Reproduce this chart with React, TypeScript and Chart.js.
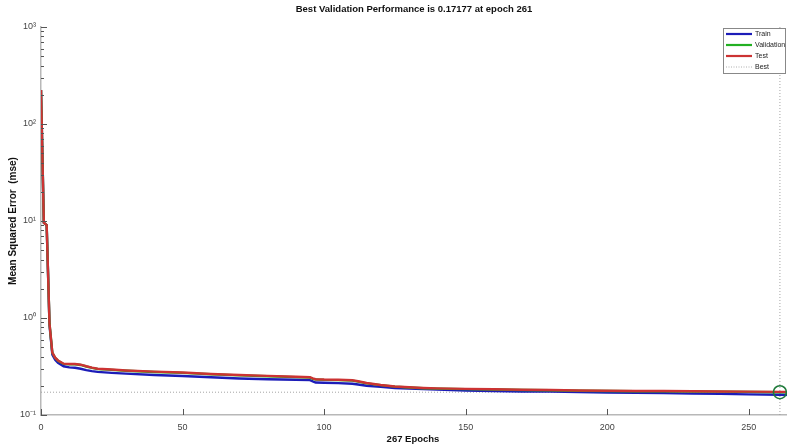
import React, { useEffect, useRef } from "react";
import { Chart, registerables } from "chart.js";

Chart.register(...registerables);

const FONT = '"Liberation Sans", Arial, sans-serif';

const titleText = "Best Validation Performance is 0.17177 at epoch 261";
const xTitle = "267 Epochs";
const yTitle = "Mean Squared Error  (mse)";

const epochs = [0, 1, 2, 3, 4, 5, 6, 8, 10, 12, 14, 16, 18, 20, 25, 30, 40, 50, 60, 70, 80, 90, 95, 96, 97, 100, 105, 110, 112, 115, 120, 125, 130, 135, 140, 150, 160, 170, 180, 190, 200, 210, 220, 230, 240, 250, 261, 267];

const trainMse = [224, 9.6, 9.1, 0.85, 0.42, 0.37, 0.345, 0.318, 0.31, 0.307, 0.3, 0.29, 0.283, 0.278, 0.272, 0.267, 0.258, 0.252, 0.245, 0.238, 0.234, 0.231, 0.229, 0.222, 0.216, 0.215, 0.213, 0.21, 0.206, 0.2, 0.195, 0.19, 0.187, 0.185, 0.183, 0.179, 0.177, 0.175, 0.174, 0.172, 0.17, 0.169, 0.168, 0.166, 0.165, 0.163, 0.162, 0.161];

const validationMse = [224, 9.6, 9.1, 0.878, 0.438, 0.388, 0.363, 0.336, 0.333, 0.334, 0.328, 0.316, 0.306, 0.298, 0.292, 0.286, 0.278, 0.272, 0.263, 0.256, 0.251, 0.246, 0.243, 0.236, 0.232, 0.23, 0.229, 0.226, 0.221, 0.212, 0.203, 0.196, 0.192, 0.189, 0.187, 0.185, 0.183, 0.181, 0.18, 0.178, 0.177, 0.176, 0.176, 0.175, 0.174, 0.173, 0.17177, 0.1719];

const testMse = [224, 9.6, 9.1, 0.88, 0.44, 0.39, 0.365, 0.338, 0.335, 0.336, 0.33, 0.318, 0.308, 0.3, 0.294, 0.288, 0.28, 0.274, 0.265, 0.258, 0.253, 0.248, 0.245, 0.238, 0.234, 0.232, 0.231, 0.228, 0.223, 0.214, 0.204, 0.197, 0.193, 0.19, 0.188, 0.186, 0.184, 0.182, 0.181, 0.179, 0.178, 0.177, 0.177, 0.176, 0.175, 0.174, 0.173, 0.173];

const bestEpoch = 261;
const bestValue = 0.17177;
const totalEpochs = 267;

const xTicks = [0, 50, 100, 150, 200, 250];
const yTicks = [0.1, 1, 10, 100, 1000];
const yTickLabels = ["10\u207B\u00B9", "10\u2070", "10\u00B9", "10\u00B2", "10\u00B3"];

const legendNames = ["Train", "Validation", "Test", "Best"];

const TRAIN_COLOR = "#1c1cb8";
const VAL_COLOR = "#22b022";
const TEST_COLOR = "#cc3333";
const BEST_COLOR = "#9a9a9a";
const CIRCLE_COLOR = "#1f7a3a";

const toPoints = (ys: number[]) => epochs.map((e, i) => ({ x: e, y: ys[i] }));

const decorPlugin = {
  id: "decor",
  afterDraw(chart: any) {
    const { ctx, chartArea, scales } = chart;
    const xs = scales.x;
    const ys = scales.y;
    ctx.save();
    ctx.strokeStyle = "#555";
    ctx.lineWidth = 1;
    ctx.beginPath();
    for (const t of xTicks) {
      const px = Math.round(xs.getPixelForValue(t)) + 0.5;
      ctx.moveTo(px, chartArea.bottom);
      ctx.lineTo(px, chartArea.bottom - 6);
    }
    for (let d = 0; d < yTicks.length; d++) {
      const base = yTicks[d];
      const py = Math.round(ys.getPixelForValue(base)) + 0.5;
      ctx.moveTo(chartArea.left, py);
      ctx.lineTo(chartArea.left + 6, py);
      if (d < yTicks.length - 1) {
        for (let m = 2; m <= 9; m++) {
          const my = Math.round(ys.getPixelForValue(base * m)) + 0.5;
          ctx.moveTo(chartArea.left, my);
          ctx.lineTo(chartArea.left + 3, my);
        }
      }
    }
    ctx.stroke();

    ctx.fillStyle = "#111";
    ctx.font = `bold 9.5px ${FONT}`;
    ctx.textAlign = "center";
    ctx.textBaseline = "middle";
    ctx.fillText(titleText, 414, 9);
    ctx.fillText(xTitle, 413, 439);

    const lx = 723, ly = 28, lw = 62, lh = 45;
    ctx.fillStyle = "#fff";
    ctx.fillRect(lx, ly, lw, lh);
    ctx.strokeStyle = "#888";
    ctx.lineWidth = 1;
    ctx.strokeRect(lx + 0.5, ly + 0.5, lw, lh);
    const colors = [TRAIN_COLOR, VAL_COLOR, TEST_COLOR, BEST_COLOR];
    ctx.font = `7px ${FONT}`;
    ctx.textAlign = "left";
    ctx.textBaseline = "middle";
    for (let i = 0; i < legendNames.length; i++) {
      const yy = ly + 6 + i * 11;
      ctx.beginPath();
      ctx.strokeStyle = colors[i];
      if (i === 3) {
        ctx.lineWidth = 0.8;
        ctx.setLineDash([1, 1.5]);
      } else {
        ctx.lineWidth = 2.2;
        ctx.setLineDash([]);
      }
      ctx.moveTo(lx + 3, yy);
      ctx.lineTo(lx + 29, yy);
      ctx.stroke();
      ctx.setLineDash([]);
      ctx.fillStyle = "#222";
      ctx.fillText(legendNames[i], lx + 32, yy + 0.5);
    }
    ctx.restore();
  },
};

export default function App() {
  const canvasRef = useRef<HTMLCanvasElement | null>(null);

  useEffect(() => {
    const canvas = canvasRef.current;
    if (!canvas) return;
    const chart = new Chart(canvas, {
      type: "line",
      data: {
        datasets: [
          { label: "Train", data: toPoints(trainMse), borderColor: TRAIN_COLOR, borderWidth: 2.4, pointRadius: 0, tension: 0, order: 3 },
          { label: "Validation", data: toPoints(validationMse), borderColor: VAL_COLOR, borderWidth: 2.4, pointRadius: 0, tension: 0, order: 2 },
          { label: "Test", data: toPoints(testMse), borderColor: TEST_COLOR, borderWidth: 2.4, pointRadius: 0, tension: 0, order: 1 },
          {
            label: "Best",
            data: [
              { x: 0, y: bestValue },
              { x: totalEpochs, y: bestValue },
            ],
            borderColor: BEST_COLOR,
            borderWidth: 0.9,
            borderDash: [1, 2],
            pointRadius: 0,
            order: 5,
          },
          {
            label: "BestV",
            data: [
              { x: bestEpoch, y: yTicks[0] },
              { x: bestEpoch, y: yTicks[yTicks.length - 1] },
            ],
            borderColor: BEST_COLOR,
            borderWidth: 0.9,
            borderDash: [1, 2],
            pointRadius: 0,
            order: 5,
          },
          {
            label: "BestPoint",
            data: [{ x: bestEpoch, y: bestValue }],
            borderColor: CIRCLE_COLOR,
            backgroundColor: "rgba(0,0,0,0)",
            pointRadius: 6.5,
            pointBorderWidth: 1.6,
            pointBorderColor: CIRCLE_COLOR,
            pointBackgroundColor: "rgba(0,0,0,0)",
            showLine: false,
            order: 0,
          },
        ],
      },
      options: {
        responsive: false,
        animation: false,
        devicePixelRatio: 1,
        layout: { padding: { top: 27, left: 0, right: 0, bottom: 0 } },
        plugins: {
          legend: { display: false },
          title: { display: false },
          tooltip: { enabled: false },
        },
        scales: {
          x: {
            type: "linear",
            min: 0,
            max: totalEpochs,
            afterFit: (s: any) => {
              s.height = 32;
              s.paddingLeft = 0;
              s.paddingRight = 0;
            },
            afterBuildTicks: (s: any) => {
              s.ticks = xTicks.map((v) => ({ value: v }));
            },
            grid: { display: false, drawTicks: false },
            border: { display: true, color: "#b8b8b8", width: 1.5 },
            ticks: {
              padding: 7,
              color: "#444",
              font: { family: FONT, size: 9 },
              maxRotation: 0,
              callback: (v: any) => String(v),
            },
            title: { display: false },
          },
          y: {
            type: "logarithmic",
            min: yTicks[0],
            max: yTicks[yTicks.length - 1],
            afterFit: (s: any) => {
              s.width = 41;
              s.paddingTop = 0;
              s.paddingBottom = 0;
            },
            afterBuildTicks: (s: any) => {
              s.ticks = yTicks.map((v) => ({ value: v }));
            },
            grid: { display: false, drawTicks: false },
            border: { display: true, color: "#b8b8b8", width: 1.5 },
            ticks: {
              padding: 5,
              color: "#444",
              font: { family: FONT, size: 9 },
              callback: (v: any) => {
                const idx = yTicks.findIndex((t) => Math.abs(t - v) < 1e-9 * Math.max(1, t));
                return idx >= 0 ? yTickLabels[idx] : "";
              },
            },
            title: {
              display: true,
              text: yTitle,
              color: "#111",
              font: { family: FONT, size: 10, weight: "bold" },
              padding: { top: 7, bottom: 0 },
            },
          },
        },
      },
      plugins: [decorPlugin],
    } as any);
    return () => chart.destroy();
  }, []);

  return (
    <div
      style={{
        position: "fixed",
        left: 0,
        top: 0,
        width: 787,
        height: 447,
        overflow: "hidden",
        background: "#fff",
      }}
    >
      <canvas ref={canvasRef} width={805} height={447} style={{ display: "block" }} />
    </div>
  );
}
